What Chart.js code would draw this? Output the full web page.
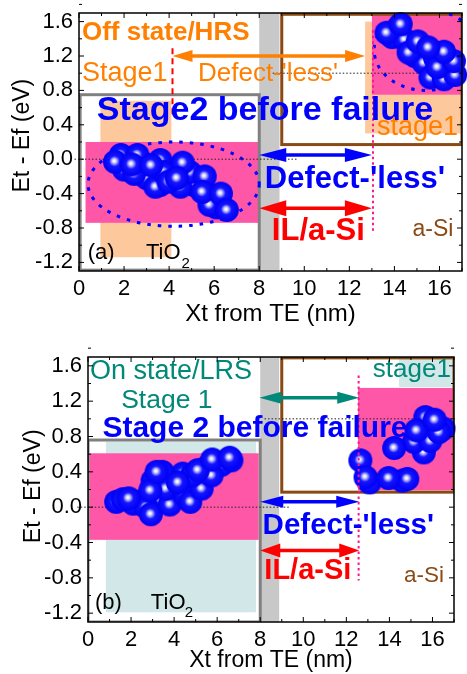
<!DOCTYPE html>
<html>
<head>
<meta charset="utf-8">
<script src="https://cdn.jsdelivr.net/npm/chart.js@4/dist/chart.umd.min.js"></script>
<style>
html, body { margin: 0; padding: 0; background: #fff; overflow: hidden; }
#wrap { position: relative; width: 467px; height: 674px; overflow: hidden; }
canvas { position: absolute; left: 0; }
</style>
</head>
<body>
<div id="wrap">
  <canvas id="chartA" width="475" height="330" style="top:0px"></canvas>
  <canvas id="chartB" width="467" height="344" style="top:330px"></canvas>
</div>
<script>
// axis ticks
const xTicks = [0, 2, 4, 6, 8, 10, 12, 14, 16];
const yTicks = [-1.2, -0.8, -0.4, 0.0, 0.4, 0.8, 1.2, 1.6];
const xTitle = 'Xt from TE (nm)';
const yTitle = 'Et - Ef (eV)';

// trap positions [Xt (nm), Et-Ef (eV)], covered ones first
const offTiO2 = [[2.0,-0.12],[2.8,-0.04],[3.0,-0.22],[3.6,-0.3],[4.1,-0.12],[4.8,-0.26],[5.1,-0.3],
                 [5.9,-0.42],[6.1,-0.56],[4.5,-0.32],[2.45,-0.17],
                 [1.86,0.05],[2.59,0.05],[3.61,-0.01],[3.39,-0.32],[3.76,-0.15],[3.97,-0.26],
                 [4.92,-0.15],[5.79,-0.53],[5.58,-0.20],
                 [1.60,-0.03],[2.34,-0.06],[3.20,-0.07],[4.60,-0.04],[4.34,-0.22],[5.47,-0.38],[6.30,-0.40],[6.56,-0.59]];
const offASi = [[13.9,1.42],[14.9,1.2],[15.3,1.12],[15.8,1.18],[16.3,1.05],[14.1,1.5],
                [14.45,1.39],[15.6,0.95],[16.2,0.93],[16.7,0.98],[15.91,1.07],[16.64,1.14],[16.2,1.25],
                [13.65,1.47],[14.28,1.57],[14.63,1.24],[15.04,1.37],[15.50,1.30]];
const onTiO2 = [[2.3,0.06],[3.3,0.1],[3.9,0.18],[4.4,0.38],[4.95,0.28],[5.5,0.45],[6.2,0.48],[3.0,0.3],[2.1,0.04],
                [1.31,0.06],[1.62,0.09],[2.69,0.0],[2.92,-0.08],[3.8,0.03],[3.45,0.40],[3.61,0.21],[4.52,0.13],
                [4.75,0.06],[5.28,0.21],[4.83,0.36],[5.74,0.36],[6.66,0.53],
                [1.89,0.10],[2.89,0.19],[3.19,0.40],[4.18,0.28],[5.10,0.42],[5.77,0.54],[6.58,0.56]];
const onASi = [[15.67,1.02],[16.51,0.89],[15.6,0.62],[14.6,0.30],[14.83,0.32],[15.14,0.74],[13.08,0.28],
               [15.9,0.75],[16.3,0.85],
               [12.65,0.53],[12.89,0.34],[13.96,0.33],[14.22,0.67],[15.26,0.87],[16.10,0.99]];

const FONT = "'Liberation Sans', Arial, sans-serif";
Chart.defaults.font.family = FONT;
Chart.defaults.color = '#000';

// shaded sphere used as point style
function makeBall(r) {
  const c = document.createElement('canvas');
  c.width = c.height = 2 * r + 2;
  const g = c.getContext('2d');
  const m = r + 1;
  const grad = g.createRadialGradient(m - 1, m - 1, 0, m, m, r);
  grad.addColorStop(0, '#ffffff');
  grad.addColorStop(0.11, '#eeeeff');
  grad.addColorStop(0.27, '#8c8cff');
  grad.addColorStop(0.44, '#1414ff');
  grad.addColorStop(1, '#0000f4');
  g.fillStyle = grad;
  g.beginPath(); g.arc(m, m, r, 0, Math.PI * 2); g.fill();
  return c;
}
const ball = makeBall(12);

const toXY = arr => arr.map(p => ({x: p[0], y: p[1]}));

function arrow(ctx, x0, x1, y, color, hl, hw) {
  ctx.save();
  ctx.strokeStyle = color; ctx.fillStyle = color; ctx.lineWidth = 3.5;
  ctx.beginPath(); ctx.moveTo(x0 + hl - 2, y); ctx.lineTo(x1 - hl + 2, y); ctx.stroke();
  ctx.beginPath(); ctx.moveTo(x0, y); ctx.lineTo(x0 + hl, y - hw); ctx.lineTo(x0 + hl, y + hw); ctx.closePath(); ctx.fill();
  ctx.beginPath(); ctx.moveTo(x1, y); ctx.lineTo(x1 - hl, y - hw); ctx.lineTo(x1 - hl, y + hw); ctx.closePath(); ctx.fill();
  ctx.restore();
}

function makeLayer(s) {
  return {
    id: 'layer',
    beforeDatasetsDraw(chart) {
      const {ctx, chartArea: a, scales: {x, y}} = chart;
      const X = v => x.getPixelForValue(v), Y = v => y.getPixelForValue(v);
      ctx.save();
      ctx.beginPath(); ctx.rect(a.left, a.top, a.right - a.left, a.bottom - a.top); ctx.clip();
      s.fills.forEach(r => {
        ctx.fillStyle = r.c;
        ctx.fillRect(X(r.x0), Y(r.y1), X(r.x1) - X(r.x0), Y(r.y0) - Y(r.y1));
      });
      s.boxes.forEach(r => {
        ctx.strokeStyle = r.c; ctx.lineWidth = 3;
        ctx.strokeRect(X(r.x0), Y(r.y1), X(r.x1) - X(r.x0), Y(r.y0) - Y(r.y1));
      });
      ctx.strokeStyle = '#0000ff'; ctx.lineWidth = 3; ctx.setLineDash([3.5, 7]);
      s.ellipses.forEach(e => {
        ctx.beginPath();
        ctx.ellipse(X(e.cx), Y(e.cy), X(e.cx + e.rx) - X(e.cx), Y(e.cy) - Y(e.cy + e.ry), 0, 0, Math.PI * 2);
        ctx.stroke();
      });
      ctx.restore();
      ctx.save();
      ctx.strokeStyle = '#222'; ctx.lineWidth = 1; ctx.setLineDash([1.5, 2]);
      s.hlines.forEach(l => {
        ctx.beginPath(); ctx.moveTo(X(l.x0), Y(l.y)); ctx.lineTo(X(l.x1), Y(l.y)); ctx.stroke();
      });
      ctx.restore();
    },
    afterDatasetsDraw(chart) {
      const {ctx, scales: {x, y}} = chart;
      const X = v => x.getPixelForValue(v), Y = v => y.getPixelForValue(v);
      s.vlines.forEach(l => {
        ctx.save();
        ctx.strokeStyle = l.c; ctx.lineWidth = 2; ctx.setLineDash(l.dash);
        ctx.beginPath(); ctx.moveTo(X(l.x), Y(l.y1)); ctx.lineTo(X(l.x), Y(l.y0)); ctx.stroke();
        ctx.restore();
      });
      s.arrows.forEach(r => arrow(ctx, X(r.x0), X(r.x1), Y(r.y), r.c, r.hl, r.hw));
      ctx.save();
      ctx.textAlign = 'left'; ctx.textBaseline = 'middle';
      s.labels.forEach(t => {
        ctx.font = (t.bold ? 'bold ' : '') + t.size + 'px ' + FONT;
        ctx.fillStyle = t.c;
        ctx.fillText(t.t, X(t.x), Y(t.y));
      });
      ctx.restore();
    },
    afterDraw(chart) {
      const {ctx, chartArea: a, scales: {x, y}} = chart;
      ctx.save();
      ctx.strokeStyle = '#000'; ctx.lineWidth = 1.5;
      ctx.strokeRect(a.left, a.top, a.right - a.left, a.bottom - a.top);
      ctx.lineWidth = 1;
      ctx.beginPath();
      for (let v = 0; v <= 17; v += 1) {
        const len = v % 2 === 0 ? 5 : 3, p = x.getPixelForValue(v);
        ctx.moveTo(p, a.bottom); ctx.lineTo(p, a.bottom - len);
        ctx.moveTo(p, a.top); ctx.lineTo(p, a.top + len);
      }
      for (let i = 0; i < yTicks.length; i++) {
        [yTicks[i], yTicks[i] + 0.2].forEach((v, k) => {
          const len = k === 0 ? 5 : 3, p = y.getPixelForValue(v);
          ctx.moveTo(a.left, p); ctx.lineTo(a.left + len, p);
          ctx.moveTo(a.right, p); ctx.lineTo(a.right - len, p);
        });
      }
      ctx.stroke();
      ctx.restore();
    }
  };
}

function buildChart(id, p) {
  return new Chart(document.getElementById(id), {
    type: 'scatter',
    data: {
      datasets: [
        {data: toXY(p.tio2), pointStyle: ball, pointRadius: 12, clip: false},
        {data: toXY(p.asi), pointStyle: ball, pointRadius: 12, clip: false}
      ]
    },
    options: {
      responsive: false,
      animation: false,
      events: [],
      layout: {padding: p.padding},
      plugins: {legend: {display: false}, tooltip: {enabled: false}},
      scales: {
        x: {
          type: 'linear', min: 0, max: 17,
          grid: {display: false, drawTicks: false}, border: {display: false},
          afterBuildTicks: s => { s.ticks = xTicks.map(v => ({value: v})); },
          afterFit: s => { s.height = p.xHeight; s.paddingLeft = 0; s.paddingRight = 0; },
          ticks: {padding: 5, autoSkip: false, maxRotation: 0, font: {size: 22}, callback: v => String(v)},
          title: {display: true, text: xTitle, font: {size: p.xTitleSize, lineHeight: 1.2}, padding: {top: 0, bottom: p.xTitlePad}}
        },
        y: {
          type: 'linear', min: -1.3, max: 1.7,
          grid: {display: false, drawTicks: false}, border: {display: false},
          afterBuildTicks: s => { s.ticks = yTicks.map(v => ({value: v})); },
          afterFit: s => { s.width = p.yWidth; s.paddingTop = 0; s.paddingBottom = 0; },
          ticks: {padding: 6, autoSkip: false, font: {size: 22}, callback: v => v.toFixed(1)},
          title: {display: true, text: p.yTitleText, font: {size: 23, lineHeight: 1.2}, padding: {top: p.yTitlePad, bottom: 0}}
        }
      }
    },
    plugins: [makeLayer(p.layer)]
  });
}

const ORANGE = '#ff8000', PEACH = '#fdc99c', PINK = '#ff57a8', TEAL = '#008878', TEAL_L = '#d2e7e7';
const BROWN = '#8b4a14', GREYBOX = '#808080', BAND = '#c8c8c8', BLUE = '#0000ff', RED = '#ff0000';

buildChart('chartA', {
  tio2: offTiO2, asi: offASi,
  padding: {left: 0, top: 12, right: 7, bottom: 0},
  yWidth: 79, xHeight: 59, xTitleSize: 24, xTitlePad: 1, yTitlePad: 9,
  yTitleText: '  ' + yTitle,
  layer: {
    fills: [
      {x0: 8.0, x1: 8.9, y0: -1.3, y1: 1.7, c: BAND},
      {x0: 0.95, x1: 4.1, y0: -1.14, y1: 0.68, c: PEACH},
      {x0: 12.7, x1: 17, y0: 0.3, y1: 1.6, c: PEACH},
      {x0: 0.29, x1: 7.98, y0: -0.74, y1: 0.2, c: PINK},
      {x0: 13.0, x1: 17, y0: 0.75, y1: 1.68, c: PINK}
    ],
    boxes: [
      {x0: 9.0, x1: 17.0, y0: 0.17, y1: 1.685, c: BROWN},
      {x0: 0.05, x1: 8.0, y0: -1.29, y1: 0.75, c: GREYBOX}
    ],
    ellipses: [
      {cx: 4.2, cy: -0.29, rx: 3.8, ry: 0.49},
      {cx: 15.4, cy: 1.27, rx: 2.3, ry: 0.47}
    ],
    hlines: [{x0: -0.2, x1: 9.7, y: 0}, {x0: 8.6, x1: 17, y: 1.0}],
    vlines: [
      {x: 4.15, y0: 0.49, y1: 1.29, c: RED, dash: [6, 4]},
      {x: 13.05, y0: -0.85, y1: 1.5, c: '#ff1493', dash: [2.5, 3]}
    ],
    arrows: [
      {x0: 4.15, x1: 12.7, y: 1.2, c: ORANGE, hl: 20, hw: 6},
      {x0: 8.0, x1: 13.0, y: 0.05, c: BLUE, hl: 27, hw: 7},
      {x0: 8.0, x1: 13.0, y: -0.57, c: RED, hl: 27, hw: 8}
    ],
    labels: [
      {t: 'Off state/HRS', x: 0.13, y: 1.47, size: 26, bold: true, c: ORANGE},
      {t: 'Stage1', x: 0.13, y: 1.0, size: 27, c: ORANGE},
      {t: "Defect-'less'", x: 5.28, y: 0.99, size: 26, c: ORANGE},
      {t: 'Stage2 before failure', x: 0.79, y: 0.57, size: 34, bold: true, c: BLUE},
      {t: 'stage1', x: 13.23, y: 0.37, size: 27, c: ORANGE},
      {t: "Defect-'less'", x: 8.25, y: -0.24, size: 31, bold: true, c: BLUE},
      {t: 'IL/a-Si', x: 8.56, y: -0.84, size: 31, bold: true, c: RED},
      {t: 'a-Si', x: 14.8, y: -0.82, size: 23, c: BROWN},
      {t: '(a)', x: 0.39, y: -1.09, size: 22, c: '#000'},
      {t: 'TiO', x: 2.97, y: -1.09, size: 22, c: '#000'},
      {t: '2', x: 4.55, y: -1.22, size: 15, c: '#000'}
    ]
  }
});

buildChart('chartB', {
  tio2: onTiO2, asi: onASi,
  padding: {left: 0, top: 27, right: 8, bottom: 0},
  yWidth: 88, xHeight: 52, xTitleSize: 23, xTitlePad: 0, yTitlePad: 20,
  yTitleText: ' ' + yTitle,
  layer: {
    fills: [
      {x0: 8.0, x1: 8.88, y0: -1.3, y1: 1.7, c: BAND},
      {x0: 0.83, x1: 7.8, y0: -1.19, y1: 0.74, c: TEAL_L},
      {x0: 14.45, x1: 17, y0: 1.36, y1: 1.68, c: TEAL_L},
      {x0: 0.06, x1: 7.93, y0: -0.37, y1: 0.61, c: PINK},
      {x0: 12.54, x1: 17, y0: 0.19, y1: 1.35, c: PINK}
    ],
    boxes: [
      {x0: 9.0, x1: 17.0, y0: 0.17, y1: 1.69, c: BROWN},
      {x0: 0.0, x1: 8.0, y0: -1.3, y1: 0.76, c: GREYBOX}
    ],
    ellipses: [],
    hlines: [{x0: -0.5, x1: 9.4, y: 0}, {x0: 8.2, x1: 17.1, y: 1.0}],
    vlines: [
      {x: 12.57, y0: -0.83, y1: 1.49, c: '#ff1493', dash: [2.5, 3]}
    ],
    arrows: [
      {x0: 7.96, x1: 12.6, y: 1.24, c: TEAL, hl: 22, hw: 6},
      {x0: 8.0, x1: 12.6, y: 0.06, c: BLUE, hl: 23, hw: 6},
      {x0: 8.0, x1: 12.6, y: -0.49, c: RED, hl: 20, hw: 7}
    ],
    labels: [
      {t: 'On state/LRS', x: 0.09, y: 1.53, size: 27, c: TEAL},
      {t: 'Stage 1', x: 1.54, y: 1.21, size: 26.5, c: TEAL},
      {t: 'Stage 2 before failure', x: 0.67, y: 0.89, size: 30, bold: true, c: BLUE},
      {t: 'stage1', x: 13.23, y: 1.55, size: 26, c: TEAL},
      {t: "Defect-'less'", x: 8.11, y: -0.21, size: 29.5, bold: true, c: BLUE},
      {t: 'IL/a-Si', x: 8.19, y: -0.72, size: 29, bold: true, c: RED},
      {t: 'a-Si', x: 14.68, y: -0.78, size: 22.5, c: BROWN},
      {t: '(b)', x: 0.32, y: -1.08, size: 22, c: '#000'},
      {t: 'TiO', x: 2.92, y: -1.08, size: 22, c: '#000'},
      {t: '2', x: 4.49, y: -1.2, size: 15, c: '#000'}
    ]
  }
});
</script>
</body>
</html>
